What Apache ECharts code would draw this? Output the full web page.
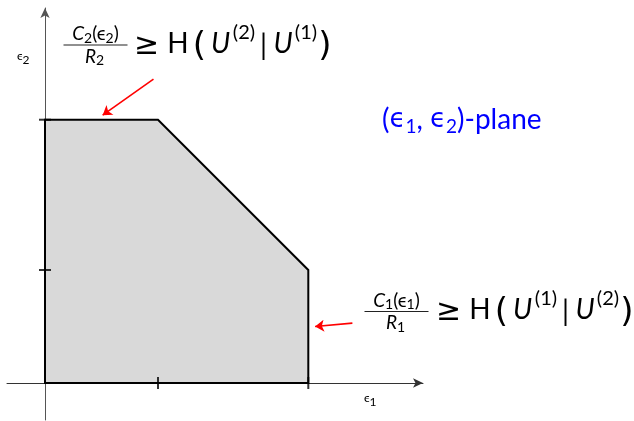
<!DOCTYPE html>
<html><head><meta charset="utf-8">
<script src="https://cdn.jsdelivr.net/npm/echarts@6/dist/echarts.min.js"></script>
<style>html,body{margin:0;padding:0;background:#fff}#c{width:634px;height:421px}</style>
</head><body><div id="c"></div>
<script>
// Achievable region vertices in the (eps1, eps2) plane
const regionX = [0, 0, 1, 2.33, 2.33];
const regionY = [0, 2.33, 2.33, 1, 0];
// Tick positions
const xTicks = [1, 2.33];
const yTicks = [1, 2.33];
// Annotation arrows (data coordinates: start -> end)
const arrowTop = [[0.96, 2.69], [0.51, 2.37]];
const arrowRight = [[2.72, 0.53], [2.39, 0.50]];
// Texts
const planeLabel = ['(', 'ϵ', '1', ', ', 'ϵ', '2', ')-plane'];

const F = 'Lato, "DejaVu Sans", sans-serif';
const FD = '"DejaVu Sans", sans-serif';
const FL = '"DejaVu Sans ExtraLight", "DejaVu Sans", sans-serif';

function P(x, y, text, o) {
  return {type: 'text', x: x, y: y, z: 100,
    style: Object.assign({text: text, align: 'center', verticalAlign: 'middle', fontSize: 18, fontFamily: F, fill: '#000'}, o || {})};
}
function bar(x1, x2, y) {
  return {type: 'line', z: 100, shape: {x1: x1, y1: y, x2: x2, y2: y}, style: {stroke: '#222', lineWidth: 1.2}};
}
function S(size, o) { return Object.assign({fontSize: size, fontFamily: F, fill: '#000'}, o || {}); }
const fracRich = {
  n: S(19, {lineHeight: 22}),
  i: S(19, {lineHeight: 22, fontStyle: 'italic'}),
  s: S(14, {lineHeight: 13, verticalAlign: 'bottom'})
};
function frac(cx, by, k) {
  return [
    {type: 'text', x: cx, y: by - 11, z: 100, style: {text: '{i|C}{s|' + k + '}{n|(ϵ}{s|' + k + '}{n|)}', rich: fracRich, align: 'center', verticalAlign: 'middle', fontSize: 19, fontFamily: F}},
    bar(cx - 32, cx + 32, by),
    {type: 'text', x: cx - 1, y: by + 11.5, z: 100, style: {text: '{i|R}{s|' + k + '}', rich: fracRich, align: 'center', verticalAlign: 'middle', fontSize: 19, fontFamily: F}}
  ];
}
// relation "≥ H (U^(a)|U^(b))"; x0 = left of ≥, y0 = centre of H
function relation(x0, y0, a, b) {
  return [
    P(x0 + 8.5, y0 + 2.5, '≥', {fontSize: 30, fontFamily: FD}),
    P(x0 + 40, y0, 'H', {fontSize: 28}),
    P(x0 + 61.5, y0 + 4, '(', {fontSize: 34, fontFamily: FL}),
    P(x0 + 82.5, y0, 'U', {fontSize: 28, fontStyle: 'italic'}),
    P(x0 + 106, y0 - 11, '(' + a + ')', {fontSize: 20}),
    P(x0 + 125.5, y0 + 2, '|', {fontSize: 28}),
    P(x0 + 145, y0, 'U', {fontSize: 28, fontStyle: 'italic'}),
    P(x0 + 168, y0 - 11, '(' + b + ')', {fontSize: 20}),
    P(x0 + 187, y0 + 4, ')', {fontSize: 34, fontFamily: FL})
  ];
}
const blueRich = {
  n: S(28, {lineHeight: 32, fill: '#0000ff'}),
  e: S(26, {lineHeight: 32, fill: '#0000ff', fontFamily: FD}),
  s: S(19, {lineHeight: 18, verticalAlign: 'bottom', fill: '#0000ff'})
};
const axRich = {
  e: S(12, {lineHeight: 16, verticalAlign: 'top'}),
  s: S(12, {lineHeight: 12, verticalAlign: 'bottom'})
};

const chart = echarts.init(document.getElementById('c'), null, {renderer: 'canvas'});
chart.setOption({
  animation: false,
  backgroundColor: '#fff',
  grid: {left: 7, right: 211, top: 8, bottom: 1},
  xAxis: {type: 'value', min: -0.3363, max: 3.345,
    axisLine: {onZero: true, symbol: ['none', 'arrow'], symbolSize: [7, 10], lineStyle: {color: '#333', width: 1}},
    axisTick: {show: false}, axisLabel: {show: false}, splitLine: {show: false}},
  yAxis: {type: 'value', min: -0.3274, max: 3.3186,
    axisLine: {onZero: true, symbol: ['none', 'arrow'], symbolSize: [7, 10], lineStyle: {color: '#555', width: 1}},
    axisTick: {show: false}, axisLabel: {show: false}, splitLine: {show: false}},
  series: [
    {type: 'custom', z: 3, silent: true,
      data: regionX.map((x, i) => [x, regionY[i]]),
      encode: {x: 0, y: 1},
      renderItem: function (params, api) {
        if (params.dataIndex !== 0) return null;
        const pts = regionX.map((x, i) => api.coord([x, regionY[i]]));
        return {type: 'polygon', shape: {points: pts}, style: {fill: '#d9d9d9', stroke: '#000', lineWidth: 2}};
      }},
    {type: 'scatter', z: 5, silent: true, symbol: 'rect', symbolSize: [2, 12],
      itemStyle: {color: '#000'}, data: xTicks.map(v => [v, 0])},
    {type: 'scatter', z: 5, silent: true, symbol: 'rect', symbolSize: [12, 2],
      itemStyle: {color: '#000'}, data: yTicks.map(v => [0, v])},
    {type: 'lines', coordinateSystem: 'cartesian2d', z: 6, silent: true,
      symbol: ['none', 'arrow'], symbolSize: 9,
      lineStyle: {color: '#ff0000', width: 1.6, opacity: 1},
      data: [{coords: arrowTop}, {coords: arrowRight}]}
  ],
  graphic: [].concat(
    frac(95.5, 45, 2),
    relation(138, 43.5, 2, 1),
    frac(396.5, 311.5, 1),
    relation(440, 309.5, 1, 2),
    [
      {type: 'text', x: 382, y: 120, z: 100, style: {
        text: '{n|' + planeLabel[0] + '}{e|' + planeLabel[1] + '}{s|' + planeLabel[2] + '}{n|' + planeLabel[3] + '}{e|' + planeLabel[4] + '}{s|' + planeLabel[5] + '}{n|' + planeLabel[6] + '}',
        rich: blueRich, align: 'left', verticalAlign: 'middle', fontSize: 28, fontFamily: F}},
      {type: 'text', x: 17, y: 58, z: 100, style: {text: '{e|ϵ}{s|2}', rich: axRich, align: 'left', verticalAlign: 'middle', fontSize: 12, fontFamily: F}},
      {type: 'text', x: 364, y: 400, z: 100, style: {text: '{e|ϵ}{s|1}', rich: axRich, align: 'left', verticalAlign: 'middle', fontSize: 12, fontFamily: F}}
    ]
  )
});
</script></body></html>
